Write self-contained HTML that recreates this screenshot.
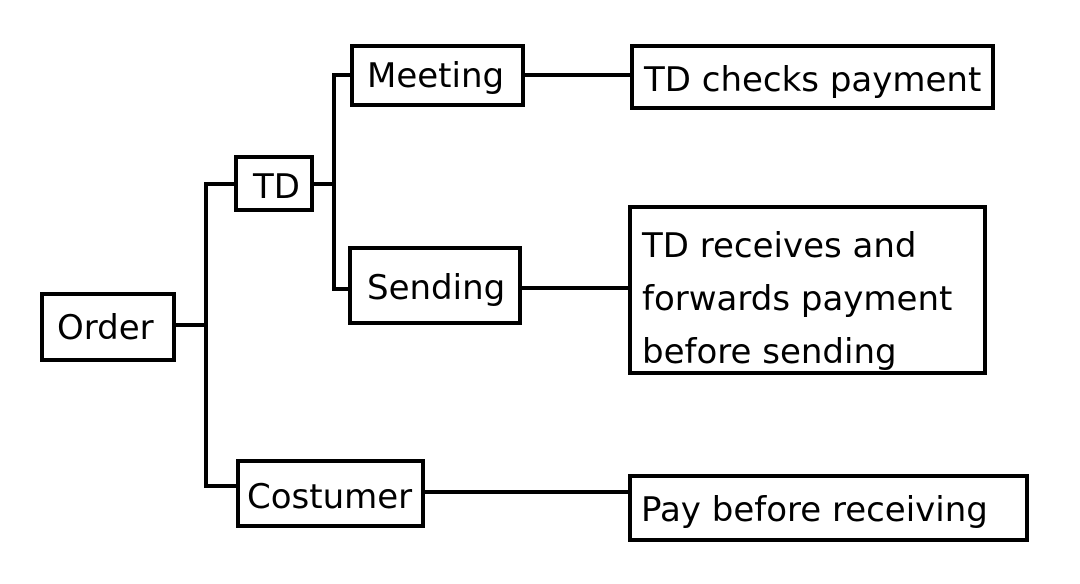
<!DOCTYPE html>
<html><head><style>
body{margin:0;width:1080px;height:584px;background:#fff;position:relative;overflow:hidden;font-family:"DejaVu Sans","Liberation Sans",sans-serif;}
.b{position:absolute;border:4px solid #000;box-sizing:border-box;background:#fff;font-size:34px;color:#000;line-height:1}
.l{position:absolute;background:#000}
</style></head><body>
<div class="l" style="left:176px;top:323px;width:31px;height:4px"></div>
<div class="l" style="left:204px;top:182px;width:4px;height:306px"></div>
<div class="l" style="left:204px;top:182px;width:31px;height:4px"></div>
<div class="l" style="left:204px;top:484px;width:33px;height:4px"></div>
<div class="l" style="left:314px;top:182px;width:21px;height:4px"></div>
<div class="l" style="left:332px;top:73px;width:4px;height:218px"></div>
<div class="l" style="left:332px;top:73px;width:19px;height:4px"></div>
<div class="l" style="left:332px;top:287px;width:17px;height:4px"></div>
<div class="l" style="left:524px;top:73px;width:107px;height:4px"></div>
<div class="l" style="left:521px;top:286px;width:108px;height:4px"></div>
<div class="l" style="left:424px;top:490px;width:205px;height:4px"></div>
<div class="b" style="left:40px;top:292px;width:136px;height:70px;padding:15px 0 0 13px">Order</div>
<div class="b" style="left:234px;top:155px;width:80px;height:57px;padding:11px 0 0 15px">TD</div>
<div class="b" style="left:350px;top:44px;width:175px;height:63px;padding:11px 0 0 13px">Meeting</div>
<div class="b" style="left:348px;top:246px;width:174px;height:79px;padding:21px 0 0 15px">Sending</div>
<div class="b" style="left:236px;top:459px;width:189px;height:69px;padding:17px 0 0 7px">Costumer</div>
<div class="b" style="left:630px;top:44px;width:365px;height:66px;padding:15px 0 0 10px">TD checks payment</div>
<div class="b" style="left:628px;top:205px;width:359px;height:170px;padding:11px 0 0 10px;line-height:53px">TD receives and<br>forwards payment<br>before sending</div>
<div class="b" style="left:628px;top:474px;width:401px;height:68px;padding:15px 0 0 9px">Pay before receiving</div>
</body></html>
